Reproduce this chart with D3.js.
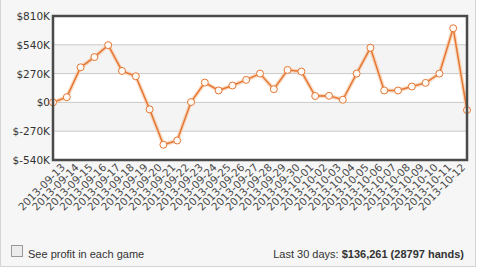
<!DOCTYPE html>
<html>
<head>
<meta charset="utf-8">
<script src="https://cdn.jsdelivr.net/npm/d3@7"></script>
<style>
  body { margin: 0; background: #fff; }
  svg { display: block; }
</style>
</head>
<body>
<div id="chart"></div>
<script>
// chart data (profit in $K), first point is the starting 0
var dates = ["2013-09-13","2013-09-14","2013-09-15","2013-09-16","2013-09-17","2013-09-18",
  "2013-09-19","2013-09-20","2013-09-21","2013-09-22","2013-09-23","2013-09-24","2013-09-25",
  "2013-09-26","2013-09-27","2013-09-28","2013-09-29","2013-09-30","2013-10-01","2013-10-02",
  "2013-10-03","2013-10-04","2013-10-05","2013-10-06","2013-10-07","2013-10-08","2013-10-09",
  "2013-10-10","2013-10-11","2013-10-12"];
var profit = [0, 49, 329, 425, 537, 295, 245, -65, -397, -357, 3, 186, 112, 158, 211, 270,
  124, 304, 289, 60, 62, 25, 270, 512, 112, 112, 149, 183, 270, 695, -72];
var yTicks = [-540, -270, 0, 270, 540, 810];

var svgWidth = 478, svgHeight = 273;
var margin = {top: 16, right: 11, bottom: 113, left: 53};
var width = svgWidth - margin.left - margin.right;
var height = svgHeight - margin.top - margin.bottom;

var svg = d3.select("#chart").append("svg")
  .attr("width", svgWidth)
  .attr("height", svgHeight);

// panel background
svg.append("rect")
  .attr("x", 0.5).attr("y", -1)
  .attr("width", 475).attr("height", 267.5)
  .attr("fill", "#f6f6f6")
  .attr("stroke", "#d4d4d4");

var g = svg.append("g")
  .attr("transform", `translate(${margin.left}, ${margin.top})`);

var x = d3.scaleLinear().domain([0, profit.length - 1]).range([0, width]);
var y = d3.scaleLinear().domain([-540, 810]).range([height, 0]);

// plot background + alternating bands
g.append("rect").attr("width", width).attr("height", height).attr("fill", "#fff");
g.selectAll(".band")
  .data(yTicks.slice(0, -1).filter((d, i) => i % 2 == 1))
  .enter().append("rect")
  .attr("class", "band")
  .attr("x", 0).attr("width", width)
  .attr("y", d => y(d + 270))
  .attr("height", d => y(d) - y(d + 270))
  .attr("fill", "#f4f4f4");

// grid lines
g.selectAll(".grid")
  .data(yTicks.slice(1, -1))
  .enter().append("line")
  .attr("x1", 0).attr("x2", width)
  .attr("y1", d => y(d)).attr("y2", d => y(d))
  .attr("stroke", "#c8c8c8").attr("stroke-width", 1);

// y tick labels
g.selectAll(".ylab")
  .data(yTicks)
  .enter().append("text")
  .attr("x", -3)
  .attr("y", d => y(d) + 4)
  .attr("text-anchor", "end")
  .attr("font-family", "DejaVu Sans")
  .attr("font-size", "10.5px")
  .attr("fill", "#333")
  .text(d => d == 0 ? "$0" : "$" + d + "K");

// x tick labels
g.selectAll(".xlab")
  .data(dates)
  .enter().append("text")
  .attr("transform", (d, i) => `translate(${x(i + 1) - 1}, ${height + 8}) rotate(-45)`)
  .attr("text-anchor", "end")
  .attr("font-family", "DejaVu Sans")
  .attr("font-size", "10.5px")
  .attr("fill", "#4a4a4a")
  .text(d => d);

var line = d3.line()
  .x((d, i) => x(i))
  .y(d => y(d));

// glow under line
g.append("path")
  .datum(profit)
  .attr("d", line)
  .attr("fill", "none")
  .attr("stroke", "#f7c9a6")
  .attr("stroke-width", 4)
  .attr("opacity", 0.7);

g.append("path")
  .datum(profit)
  .attr("d", line)
  .attr("fill", "none")
  .attr("stroke", "#e57733")
  .attr("stroke-width", 1.5);

g.selectAll(".dot")
  .data(profit)
  .enter().append("circle")
  .attr("cx", (d, i) => x(i))
  .attr("cy", d => y(d))
  .attr("r", 3.5)
  .attr("fill", "#fffaf5")
  .attr("stroke", "#e57733")
  .attr("stroke-width", 1);

// plot frame
g.append("rect")
  .attr("width", width).attr("height", height)
  .attr("fill", "none")
  .attr("stroke", "#4a4a4a")
  .attr("stroke-width", 2.5);

// footer
svg.append("rect")
  .attr("x", 11.5).attr("y", 245.5)
  .attr("width", 11).attr("height", 11)
  .attr("fill", "#ececec")
  .attr("stroke", "#9a9a9a");

svg.append("text")
  .attr("x", 28).attr("y", 258)
  .attr("font-family", "Liberation Sans")
  .attr("font-size", "11px")
  .attr("fill", "#333")
  .text("See profit in each game");

var foot = svg.append("text")
  .attr("x", 464).attr("y", 258)
  .attr("text-anchor", "end")
  .attr("font-family", "Liberation Sans")
  .attr("font-size", "11px")
  .attr("fill", "#333");
foot.append("tspan").text("Last 30 days: ");
foot.append("tspan").attr("font-weight", "bold").text("$136,261 (28797 hands)");
</script>
</body>
</html>
